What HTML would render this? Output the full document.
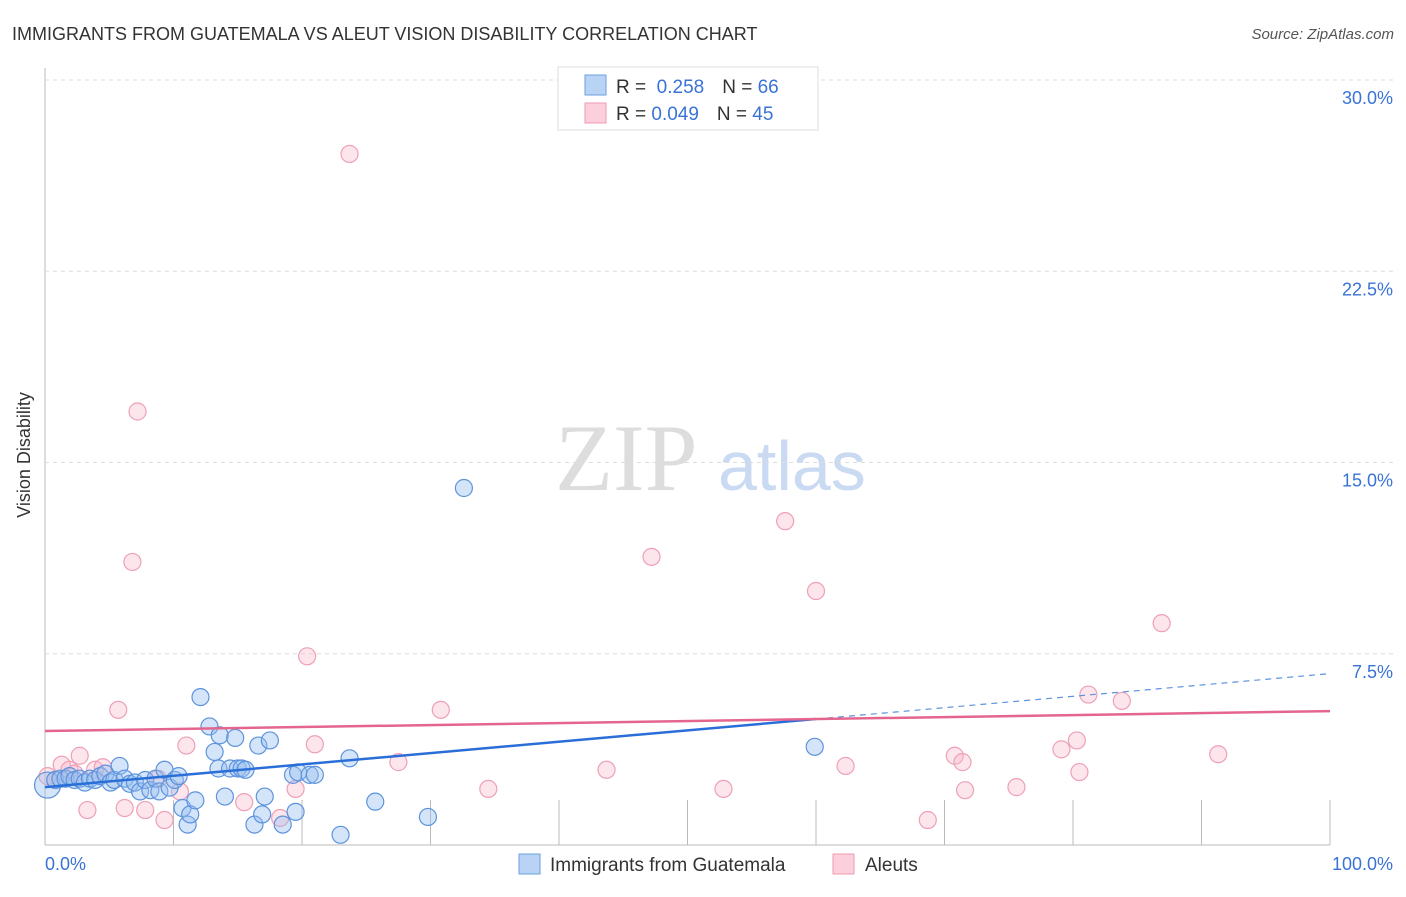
<!DOCTYPE html>
<html><head><meta charset="utf-8"><style>
body{margin:0;background:#fff;font-family:"Liberation Sans",sans-serif;}
</style></head><body>
<svg id="c" width="1406" height="892" xmlns="http://www.w3.org/2000/svg" font-family="Liberation Sans, sans-serif">
<text x="12" y="40" font-size="18" fill="#333">IMMIGRANTS FROM GUATEMALA VS ALEUT VISION DISABILITY CORRELATION CHART</text>
<text x="1394" y="39" font-size="15" fill="#555" font-style="italic" text-anchor="end">Source: ZipAtlas.com</text>
<text x="30" y="455" font-size="18" fill="#333" transform="rotate(-90 30 455)" text-anchor="middle">Vision Disability</text>
<text x="555" y="490" font-size="95" fill="#ddd" font-family="Liberation Serif, serif">ZIP</text>
<text x="718" y="490" font-size="70" fill="#c9daf2">atlas</text>
<g id="grid"></g><g id="pts"></g><g id="lines"></g>
<g>
<rect x="558" y="67" width="260" height="63" fill="#fff" stroke="#ddd"/>
<rect x="585" y="75" width="21" height="20" fill="#b9d3f5" stroke="#6a9fe0"/>
<rect x="585" y="103" width="21" height="20" fill="#fbd0dc" stroke="#ec9ab2"/>
<text x="616" y="93" font-size="19" fill="#333">R = <tspan fill="#3a73d6">&#160;0.258</tspan><tspan dx="18">N = </tspan><tspan fill="#3a73d6">66</tspan></text>
<text x="616" y="120" font-size="19" fill="#333">R = <tspan fill="#3a73d6">0.049</tspan><tspan dx="18">N = </tspan><tspan fill="#3a73d6">45</tspan></text>
</g>
<g>
<rect x="519" y="854" width="21" height="20" fill="#b9d3f5" stroke="#6a9fe0"/>
<text x="550" y="871" font-size="19" fill="#333">Immigrants from Guatemala</text>
<rect x="833" y="854" width="21" height="20" fill="#fbd0dc" stroke="#ec9ab2"/>
<text x="865" y="871" font-size="19" fill="#333">Aleuts</text>
</g>
</svg>
<script>
const yTicks=[7.5,15,22.5,30];
const xTickLabels=["0.0%","100.0%"];
const blueX=[0.2,0.8,1.2,1.6,1.9,2.3,2.7,3.1,3.5,3.9,4.3,4.7,5.1,5.4,5.8,6.2,6.6,7,7.4,7.8,8.2,8.6,8.9,9.3,9.7,10.1,10.4,10.7,11.1,11.3,11.7,12.1,12.8,13.2,13.5,13.6,14,14.4,14.8,15,15.3,15.6,16.3,16.6,16.9,17.1,17.5,18.5,19.3,19.5,19.7,20.6,21,23,23.7,25.7,29.8,32.6,59.9];
const blueY=[2.35,2.55,2.6,2.6,2.7,2.55,2.6,2.45,2.6,2.55,2.7,2.8,2.45,2.55,3.1,2.6,2.4,2.45,2.1,2.55,2.15,2.6,2.1,2.95,2.25,2.55,2.7,1.45,0.8,1.2,1.75,5.8,4.65,3.65,3.0,4.3,1.9,3.0,4.2,3.0,3.0,2.95,0.8,3.9,1.2,1.9,4.1,0.8,2.75,1.3,2.85,2.75,2.75,0.4,3.4,1.7,1.1,14,3.85];
const pinkX=[0.2,0.8,1.3,1.9,2.3,2.7,3.3,3.9,4.5,5.7,6.2,6.8,7.2,7.8,8.8,9.3,10.5,11,15.5,18.3,19.5,20.4,21,23.7,27.5,30.8,34.5,43.7,47.2,52.8,57.6,60,62.3,68.7,70.8,71.4,71.6,75.6,79.1,80.3,80.5,81.2,83.8,86.9,91.3];
const pinkY=[2.7,2.55,3.15,2.95,2.8,3.5,1.37,2.95,3.05,5.3,1.45,11.1,17,1.37,2.6,0.98,2.1,3.9,1.68,1.06,2.2,7.4,3.95,27.1,3.25,5.3,2.2,2.95,11.3,2.2,12.7,9.96,3.1,0.98,3.5,3.25,2.15,2.27,3.75,4.1,2.86,5.9,5.65,8.7,3.56];
const blueLine=[2.27,4.94,6.72]; // values at x=0, 60, 100
const pinkLine=[4.47,5.25];
const X=v=>45+v*12.85, Y=v=>845-v*25.5;
const NS="http://www.w3.org/2000/svg";
function mk(tag,attrs,parent){const e=document.createElementNS(NS,tag);for(const k in attrs)e.setAttribute(k,attrs[k]);document.getElementById(parent).appendChild(e);return e;}
let a=mk('line',{x1:45,y1:68,x2:45,y2:845,stroke:'#bbb'},'grid');


a=mk('line',{x1:45,y1:845,x2:1330,y2:845,stroke:'#bbb'},'grid');


yTicks.forEach(t=>{
 const g=mk('line',{x1:45,y1:Y(t),x2:1393,y2:Y(t),stroke:'#ddd','stroke-dasharray':'4,4'},'grid');
 
 
 const tx=mk('text',{x:1393,y:Y(t)+24,'font-size':18,fill:'#3a73d6','text-anchor':'end'},'grid');
 tx.textContent=t.toFixed(1)+'%';
 
 
});
for(let i=1;i<=10;i++){
 const l=mk('line',{x1:X(i*10),y1:800,x2:X(i*10),y2:845,stroke:'#bbb'},'grid');
 
 
}
xTickLabels.forEach((s,i)=>{
 const tx=mk('text',{x:i?1393:45,y:870,'font-size':18,fill:'#3a73d6','text-anchor':i?'end':'start'},'grid');
 tx.textContent=s;
 
 
});
pinkX.forEach((v,i)=>{
 const c=mk('circle',{cx:X(v),cy:Y(pinkY[i]),r:8.5,fill:'rgba(248,180,200,0.35)',stroke:'#eea0b8','stroke-width':1.2},'pts');
 
 
});
blueX.forEach((v,i)=>{
 const c=mk('circle',{cx:X(v),cy:Y(blueY[i]),r:i==0?13:8.5,fill:'rgba(150,190,240,0.4)',stroke:'#5d93dd','stroke-width':1.2},'pts');
 
 
});
let l=mk('line',{x1:X(0),y1:Y(blueLine[0]),x2:X(60),y2:Y(blueLine[1]),stroke:'#2a6fd8','stroke-width':2.5},'lines');


l=mk('line',{x1:X(60),y1:Y(blueLine[1]),x2:X(100),y2:Y(blueLine[2]),stroke:'#5d93dd','stroke-width':1.2,'stroke-dasharray':'6,5'},'lines');


l=mk('line',{x1:X(0),y1:Y(pinkLine[0]),x2:X(100),y2:Y(pinkLine[1]),stroke:'#e4668f','stroke-width':2.5},'lines');


</script>
</body></html>
